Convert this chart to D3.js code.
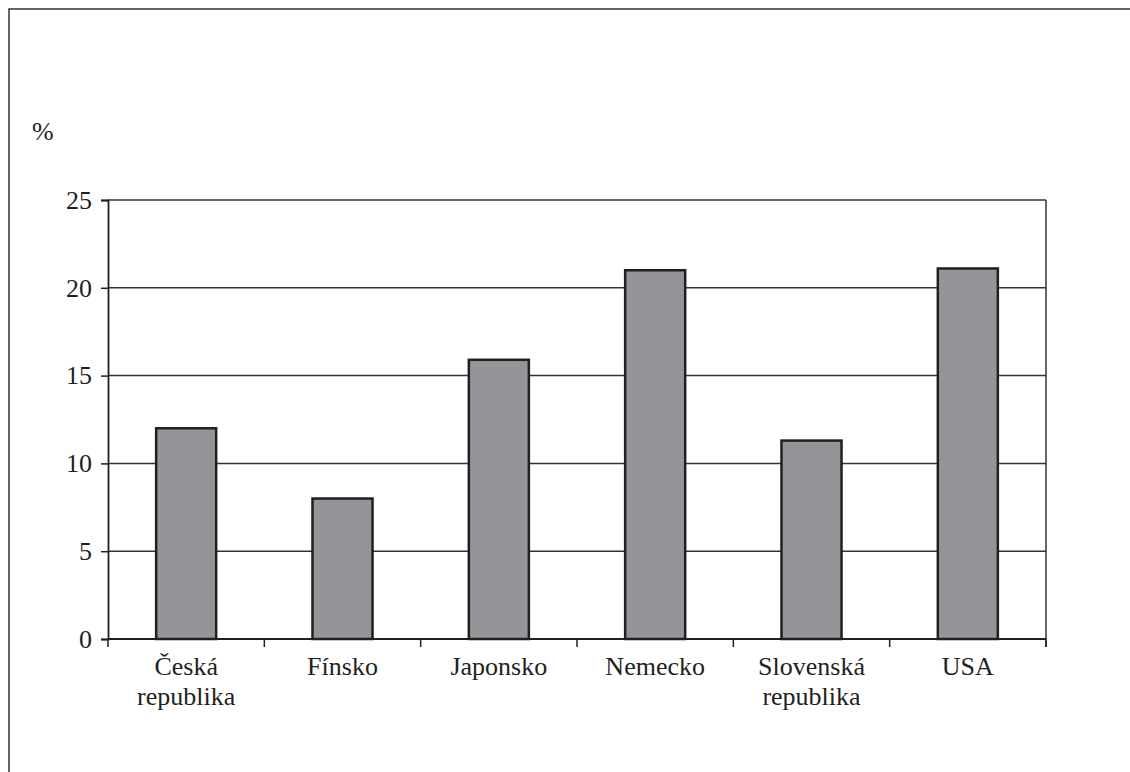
<!DOCTYPE html>
<html>
<head>
<meta charset="utf-8">
<script src="https://cdn.jsdelivr.net/npm/d3@7"></script>
<style>
  html, body { margin: 0; padding: 0; background: #fff; }
  svg { display: block; }
  text { font-family: "Liberation Serif", "Times New Roman", Tinos, Times, "DejaVu Serif", "Noto Serif", serif; fill: #231f20; }
</style>
</head>
<body>
<svg id="chart" width="1130" height="772"></svg>
<script>
// Country names, each split into its printed lines
const categories = [
  ["Česká", "republika"],
  ["Fínsko"],
  ["Japonsko"],
  ["Nemecko"],
  ["Slovenská", "republika"],
  ["USA"]
];
// Share in percent
const values = [12.0, 8.0, 15.9, 21.0, 11.3, 21.1];
const yTicks = [0, 5, 10, 15, 20, 25];
const unitLabel = "%";

const svg = d3.select("#chart");
const ink = "#231f20";
const serif = '"Liberation Serif", "Times New Roman", Tinos, Times, "DejaVu Serif", "Noto Serif", serif';
const plot = { left: 108, right: 1046, top: 200, bottom: 639 };

// Outer frame (runs off the right and bottom edges)
svg.append("rect")
  .attr("x", 9).attr("y", 9)
  .attr("width", 1200).attr("height", 900)
  .attr("fill", "none").attr("stroke", "#333").attr("stroke-width", 1.5);

const keys = categories.map(c => c.join(" "));
const x = d3.scaleBand()
  .domain(keys)
  .range([plot.left, plot.right])
  .paddingInner(0.616)
  .paddingOuter(0.308);
const step = x.step();

const y = d3.scaleLinear().domain([0, 25]).range([plot.bottom, plot.top]);

// Horizontal gridlines
svg.append("g")
  .selectAll("line")
  .data(yTicks.filter(t => t > 0))
  .join("line")
  .attr("x1", plot.left).attr("x2", plot.right)
  .attr("y1", d => y(d)).attr("y2", d => y(d))
  .attr("stroke", "#333").attr("stroke-width", 1.5);

// Right border of the plot
svg.append("line")
  .attr("x1", plot.right).attr("x2", plot.right)
  .attr("y1", plot.top).attr("y2", plot.bottom + 8)
  .attr("stroke", "#333").attr("stroke-width", 1.5);

// Bars
svg.append("g")
  .selectAll("rect")
  .data(values)
  .join("rect")
  .attr("x", (d, i) => x(keys[i]))
  .attr("y", d => y(d))
  .attr("width", x.bandwidth())
  .attr("height", d => y(0) - y(d))
  .attr("fill", "#939598")
  .attr("stroke", ink)
  .attr("stroke-width", 2.5);

// Y axis
const yAxis = d3.axisLeft(y)
  .tickValues(yTicks)
  .tickSize(7)
  .tickPadding(9)
  .tickFormat(d3.format("d"));
const gy = svg.append("g")
  .attr("transform", `translate(${plot.left},0)`)
  .call(yAxis)
  .attr("font-family", serif)
  .attr("font-size", 26);
gy.select(".domain").attr("stroke", ink).attr("stroke-width", 1.8);
gy.selectAll(".tick line").attr("stroke", ink).attr("stroke-width", 1.5);
gy.selectAll(".tick text").style("font-family", serif).attr("fill", ink);

// X axis baseline with ticks at category boundaries
svg.append("line")
  .attr("x1", plot.left).attr("x2", plot.right)
  .attr("y1", y(0)).attr("y2", y(0))
  .attr("stroke", ink).attr("stroke-width", 1.8);
svg.append("g")
  .selectAll("line")
  .data(d3.range(keys.length + 1))
  .join("line")
  .attr("x1", i => plot.left + i * step)
  .attr("x2", i => plot.left + i * step)
  .attr("y1", y(0)).attr("y2", y(0) + 8)
  .attr("stroke", ink).attr("stroke-width", 1.5);

// Category labels
const labels = svg.append("g")
  .selectAll("text")
  .data(categories)
  .join("text")
  .attr("text-anchor", "middle")
  .style("font-family", serif)
  .attr("font-size", 26)
  .attr("transform", (d, i) => `translate(${x(keys[i]) + x.bandwidth() / 2},${y(0) + 36})`);
labels.selectAll("tspan")
  .data(d => d)
  .join("tspan")
  .attr("x", 0)
  .attr("dy", (d, i) => i === 0 ? 0 : 30)
  .text(d => d);

// Unit label
svg.append("text")
  .attr("x", 32).attr("y", 140)
  .style("font-family", serif)
  .attr("font-size", 26)
  .text(unitLabel);
</script>
</body>
</html>
